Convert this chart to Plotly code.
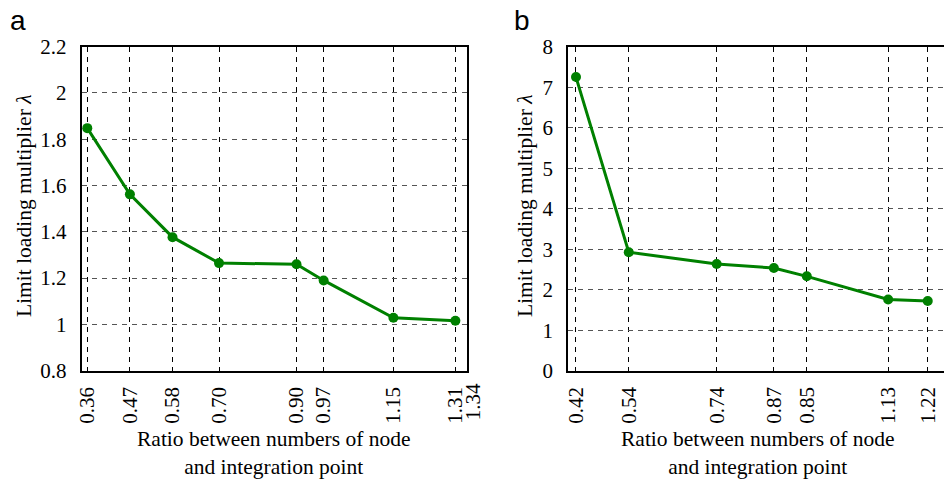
import plotly.graph_objects as go

W, H = 944, 481

# Panel a data
xa = [0.36, 0.47, 0.58, 0.70, 0.90, 0.97, 1.15, 1.31]
ya = [1.848, 1.562, 1.377, 1.265, 1.260, 1.190, 1.029, 1.016]
xa_ticks = [0.36, 0.47, 0.58, 0.70, 0.90, 0.97, 1.15, 1.31, 1.34]
xa_ticktext = ["0.36", "0.47", "0.58", "0.70", "0.90", "0.97", "1.15", "1.31", "1.34"]

# Panel b data
xb = [0.42, 0.54, 0.74, 0.87, 0.945, 1.13, 1.22]
yb = [7.25, 2.925, 2.635, 2.535, 2.33, 1.76, 1.72]
xb_ticks = [0.42, 0.54, 0.74, 0.87, 0.945, 1.13, 1.22]
xb_ticktext = ["0.42", "0.54", "0.74", "0.87", "0.85", "1.13", "1.22"]

GREEN = "#008000"
FONT = "Liberation Serif"
TICK_SIZE = 21
TITLE_SIZE = 21.5

fig = go.Figure()
fig.add_trace(go.Scatter(x=xa, y=ya, mode="lines+markers", xaxis="x", yaxis="y",
                         line=dict(color=GREEN, width=3), marker=dict(color=GREEN, size=10),
                         showlegend=False, hoverinfo="skip"))
fig.add_trace(go.Scatter(x=xb, y=yb, mode="lines+markers", xaxis="x2", yaxis="y2",
                         line=dict(color=GREEN, width=3), marker=dict(color=GREEN, size=10),
                         showlegend=False, hoverinfo="skip"))

def px_x(p):
    return p / W

def px_y(p):
    return 1 - p / H

top, bottom = 46.7, 370.7
ydom = [px_y(bottom), px_y(top)]

common_x = dict(showline=True, linecolor="black", linewidth=2, ticks="",
                tickangle=-90, showgrid=True, gridcolor="black", gridwidth=1,
                griddash="5px,5px", zeroline=False, tickmode="array", automargin=False,
                tickfont=dict(family=FONT, size=TICK_SIZE, color="black"),
                ticklabelstandoff=6)
common_y = dict(showline=True, linecolor="black", linewidth=2, ticks="",
                showgrid=True, gridcolor="#555555", gridwidth=1, griddash="5px,5px",
                zeroline=False, automargin=False,
                tickfont=dict(family=FONT, size=TICK_SIZE, color="black"),
                ticklabelstandoff=9)

fig.update_layout(
    width=W, height=H,
    margin=dict(l=0, r=0, t=0, b=0, autoexpand=False),
    plot_bgcolor="white", paper_bgcolor="white",
    xaxis=dict(domain=[px_x(81.7), px_x(467)], range=[0.3456, xa_ticks[-1]],
               tickvals=xa_ticks[:-1], ticktext=xa_ticktext[:-1], anchor="y", mirror=True, **common_x),
    yaxis=dict(domain=ydom, range=[0.8, 2.2], dtick=0.2, anchor="x", mirror=True, **common_y),
    xaxis2=dict(domain=[px_x(568.3), 1.0], range=[0.4025, 1.257],
                tickvals=xb_ticks, ticktext=xb_ticktext, anchor="y2", mirror=True, **common_x),
    yaxis2=dict(domain=ydom, range=[0, 8], dtick=1, anchor="x2", **common_y),
)

ann_font = dict(family=FONT, size=TITLE_SIZE, color="black")
annotations = [
    # last tick label of panel a, nudged right of the frame as in the original
    dict(text=xa_ticktext[-1], x=xa_ticks[-1], y=px_y(bottom + 11), xref="x", yref="paper",
         xanchor="center", yanchor="top", textangle=-90, xshift=6, showarrow=False,
         font=dict(family=FONT, size=TICK_SIZE, color="black")),
    dict(text="a", x=px_x(8), y=px_y(3), xref="paper", yref="paper", xanchor="left", yanchor="top",
         showarrow=False, font=dict(family="Liberation Sans", size=28, color="black")),
    dict(text="b", x=px_x(512), y=px_y(3), xref="paper", yref="paper", xanchor="left", yanchor="top",
         showarrow=False, font=dict(family="Liberation Sans", size=28, color="black")),
    dict(text="Ratio between numbers of node<br>and integration point", x=px_x(273), y=px_y(425),
         xref="paper", yref="paper", xanchor="center", yanchor="top", showarrow=False, font=ann_font),
    dict(text="Ratio between numbers of node<br>and integration point", x=px_x(757), y=px_y(425),
         xref="paper", yref="paper", xanchor="center", yanchor="top", showarrow=False, font=ann_font),
    dict(text="Limit loading multiplier <i>λ</i>", x=px_x(24), y=px_y(206), textangle=-90,
         xref="paper", yref="paper", xanchor="center", yanchor="middle", showarrow=False, font=ann_font),
    dict(text="Limit loading multiplier <i>λ</i>", x=px_x(525), y=px_y(206), textangle=-90,
         xref="paper", yref="paper", xanchor="center", yanchor="middle", showarrow=False, font=ann_font),
]
fig.update_layout(annotations=annotations)

fig.write_html("out.html", config={"displayModeBar": False})

# remove default page margin so the figure fills the window exactly
with open("out.html", "r", encoding="utf-8") as f:
    html = f.read()
html = html.replace("<head>", "<head><style>html,body{margin:0;padding:0;overflow:hidden;}</style>", 1)
with open("out.html", "w", encoding="utf-8") as f:
    f.write(html)
